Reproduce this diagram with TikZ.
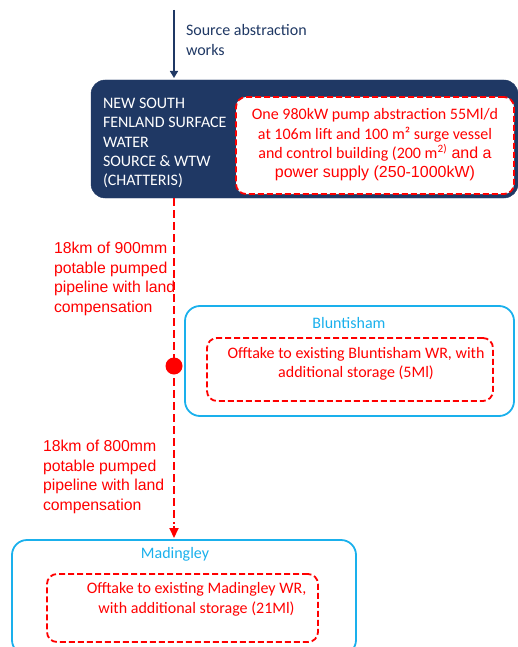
\documentclass[tikz,border=0pt]{standalone}
\usepackage{fontspec}
\setmainfont{Carlito}
\newfontfamily\arialf{Liberation Sans}
\usetikzlibrary{arrows.meta}
\definecolor{navy}{HTML}{1F3864}
\definecolor{pipered}{HTML}{FF0000}
\definecolor{skyb}{HTML}{1AB0EC}
\begin{document}
\begin{tikzpicture}[x=1pt,y=-1pt,
  every node/.style={inner sep=0pt, outer sep=0pt},
  body/.style={font=\fontsize{16}{19.4}\selectfont},
  navybox/.style={fill=navy, draw=navy, rounded corners=14pt},
  offtake/.style={draw=pipered, fill=white, line width=1.8pt, dash pattern=on 6pt off 3pt, rounded corners=10pt},
  sitebox/.style={draw=skyb, line width=1.8pt, rounded corners=15pt},
  pipe/.style={draw=pipered, line width=2pt, dash pattern=on 8pt off 4pt},
  redtext/.style={body, text=pipered, align=center},
  pipelabel/.style={font=\arialf\fontsize{15.8}{19.6}\selectfont, text=pipered, align=left, anchor=west},
  sitetitle/.style={body, text=skyb}
]
\useasboundingbox (0,0) rectangle (518,647);

% source treatment works
\path[navybox] (91,80) rectangle (518,198);
\node[minimum width=427pt, minimum height=118pt] (wtw) at (304.5,139) {};
\node[body, text=white, align=left, anchor=west] (wtwname) at (103,143)
  {NEW SOUTH\\FENLAND SURFACE\\WATER\\SOURCE \& WTW\\(CHATTERIS)};
\node[offtake, minimum width=278pt, minimum height=97pt] (wtwbox) at (375,145.5) {};
\node[redtext] (wtwtext) at (375,145)
  {One 980kW pump abstraction 55Ml/d\\
   at 106m lift and 100 m² surge vessel\\
   and control building (200 m\textsuperscript{2)}{\arialf\ and a}\\
   {\arialf power supply (250-1000kW)}};

% abstraction input
\coordinate (src) at (174,10);
\draw[navy, line width=1.6pt, -{Triangle[length=7pt,width=8pt]}] (src) -- ([yshift=2pt]wtw.north -| src);
\node[body, text=navy, align=left, anchor=west] (srclabel) at (186,40)
  {Source abstraction\\works};

% Bluntisham
\node[sitebox, minimum width=329pt, minimum height=110pt] (blunt) at (349.5,361) {};
\node[sitetitle] (bluntname) at (349,323) {Bluntisham};
\node[offtake, minimum width=286pt, minimum height=63pt] (bluntbox) at (350,369.5) {};
\node[redtext] (blunttext) at (356,364)
  {Offtake to existing Bluntisham WR, with\\additional storage (5Ml)};

% Madingley
\node[sitebox, minimum width=344pt, minimum height=115pt, anchor=north] (mad) at (184,540) {};
\node[sitetitle] (madname) at (175,554) {Madingley};
\node[offtake, minimum width=271pt, minimum height=68pt] (madbox) at (182.5,608) {};
\node[redtext] (madtext) at (196.5,599.5)
  {Offtake to existing Madingley WR,\\with additional storage (21Ml)};

% pipeline with offtake junction
\node[circle, fill=pipered, minimum size=17pt] (junction) at (174,366) {};
\coordinate (arrowtip) at ([yshift=2pt]mad.north -| src);
\draw[pipe] (wtw.south -| src) -- ([yshift=14pt]arrowtip);
\draw[pipered, line width=2pt, -{Triangle[length=10pt,width=9pt]}] ([yshift=12pt]arrowtip) -- (arrowtip);

\node[pipelabel] (leg1) at (54,279) {18km of 900mm\\potable pumped\\pipeline with land\\compensation};
\node[pipelabel] (leg2) at (43,477) {18km of 800mm\\potable pumped\\pipeline with land\\compensation};
\end{tikzpicture}
\end{document}
